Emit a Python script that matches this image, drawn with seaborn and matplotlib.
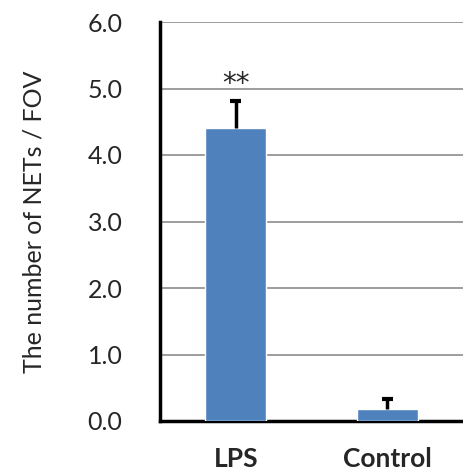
import matplotlib
matplotlib.use("Agg")
import matplotlib.pyplot as plt
import seaborn as sns
import pandas as pd

categories = ["LPS", "Control"]
values = [4.4, 0.18]
errors = [0.41, 0.15]
y_ticks = [0.0, 1.0, 2.0, 3.0, 4.0, 5.0, 6.0]
y_label = "The number of NETs / FOV"
sig_label = "**"

sns.set_theme(style="white")
plt.rcParams['font.family'] = ['Lato', 'DejaVu Sans']

df = pd.DataFrame({"group": categories, "value": values})

fig = plt.figure(figsize=(4.63, 4.74), dpi=100)
ax = fig.add_axes([160/463, 1-421/474, 1-160/463, (421-22)/474])

sns.barplot(data=df, x="group", y="value", order=categories, color="#4F81BD",
            saturation=1, width=0.4, errorbar=None, ax=ax, zorder=3)

xs = list(range(len(categories)))
tops = [v + e for v, e in zip(values, errors)]
ax.vlines(xs, values, tops, color="black", linewidth=2.5, zorder=4)
ax.hlines(tops, [x - 0.035 for x in xs], [x + 0.035 for x in xs],
          color="black", linewidth=3, zorder=4)

ax.set_ylim(0, 6.0)
ax.set_xlim(-0.5, 1.48)
ax.set_yticks(y_ticks)
ax.set_yticklabels([f"{t:.1f}" for t in y_ticks], fontsize=18)
ax.yaxis.grid(True, color="#8c8c8c", linewidth=1.2, zorder=0)
ax.set_axisbelow(True)

ax.set_xticks([-0.5, 0.5, 1.5], minor=True)
ax.tick_params(axis="x", which="minor", direction="out", length=10, width=2.5, color="black")
ax.tick_params(axis="x", which="major", length=0, pad=19)
ax.set_xticklabels(categories, fontsize=19, fontweight="bold")
ax.tick_params(axis="y", direction="out", length=8, width=2.5, color="black", pad=19)

for s in ["top", "right"]:
    ax.spines[s].set_visible(False)
for s in ["left", "bottom"]:
    ax.spines[s].set_color("black")
    ax.spines[s].set_linewidth(2.5)

ax.set_xlabel("")
ax.set_ylabel(y_label, fontsize=18, labelpad=30)

ax.text(0, values[0] + errors[0] + 0.05, sig_label, ha="center", va="bottom",
        fontsize=20, family="DejaVu Sans")

fig.savefig("out.png", dpi=100)
